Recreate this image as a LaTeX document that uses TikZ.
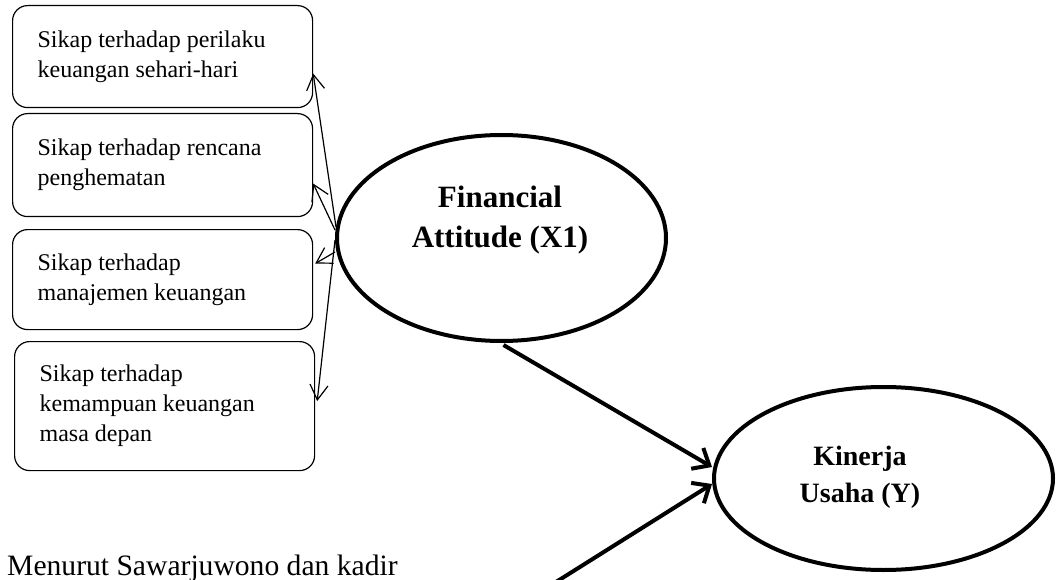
\documentclass[tikz,border=0pt]{standalone}
\usepackage{fontspec}
\setmainfont{Liberation Serif}
\usetikzlibrary{shapes.geometric,arrows.meta,calc}
\newcommand\natsp{\spaceskip=0pt\xspaceskip=0pt\relax}
\begin{document}
\begin{tikzpicture}[x=1pt,y=-1pt,
  box/.style={draw,rounded corners=15pt,line width=1.2pt,anchor=north west,
    text width=250pt,align=left,inner xsep=25pt,inner ysep=0pt,
    font=\fontsize{24}{30}\selectfont},
  latent/.style={draw,ellipse,line width=4pt,inner sep=0pt},
  lblA/.style={align=center,inner sep=0pt,font=\bfseries\fontsize{31}{40}\selectfont},
  lblB/.style={align=center,inner sep=0pt,font=\bfseries\fontsize{28}{37}\selectfont},
  indarrow/.style={line width=1.2pt,-{Straight Barb[length=15pt,width=18pt]}},
  patharrow/.style={line width=4pt,-{Straight Barb[length=14pt,width=24pt]}}]
\useasboundingbox (0,0) rectangle (1057,580);

\node[box,minimum height=102pt] (b1) at (12,5) {\natsp Sikap terhadap perilaku\\keuangan sehari-hari};
\node[box,minimum height=103pt] (b2) at (12,113) {\natsp Sikap terhadap rencana\\penghematan};
\node[box,minimum height=100pt] (b3) at (12,229) {\natsp Sikap terhadap\\manajemen keuangan};
\node[box,minimum height=129pt] (b4) at (14,341) {\natsp Sikap terhadap\\kemampuan keuangan\\masa depan};

\node[latent,minimum width=329pt,minimum height=206pt] (fa) at (501.5,238) {};
\node[lblA] (fat) at (500,220) {Financial\\Attitude (X1)};

\node[latent,minimum width=339pt,minimum height=183pt] (ky) at (883.5,478.5) {};
\node[lblB] (kyt) at (860,477) {Kinerja\\Usaha (Y)};

\draw[indarrow] ($(fa.west)+(1,-11)$) -- ($(b1.east)+(0,17)$);
\draw[indarrow] ($(fa.west)+(0,-8)$) -- ($(b2.east)+(0,18.5)$);
\draw[indarrow] ($(fa.west)+(0,14)$) -- ($(b3.east)+(2,-16)$);
\draw[indarrow] ($(fa.west)+(0,2)$) -- ($(b4.east)+(2,-5)$);

\coordinate (src) at (556,582);
\draw[patharrow] ($(fa.south)+(2,2)$) -- ($(ky.west)+(0,-11.5)$);
\draw[patharrow] (src) -- ($(ky.west)+(0,5.5)$);

\node[anchor=base west,inner sep=0pt,font=\fontsize{29.6}{35}\selectfont] (note) at (7,575) {Menurut Sawarjuwono dan kadir};
\end{tikzpicture}
\end{document}
